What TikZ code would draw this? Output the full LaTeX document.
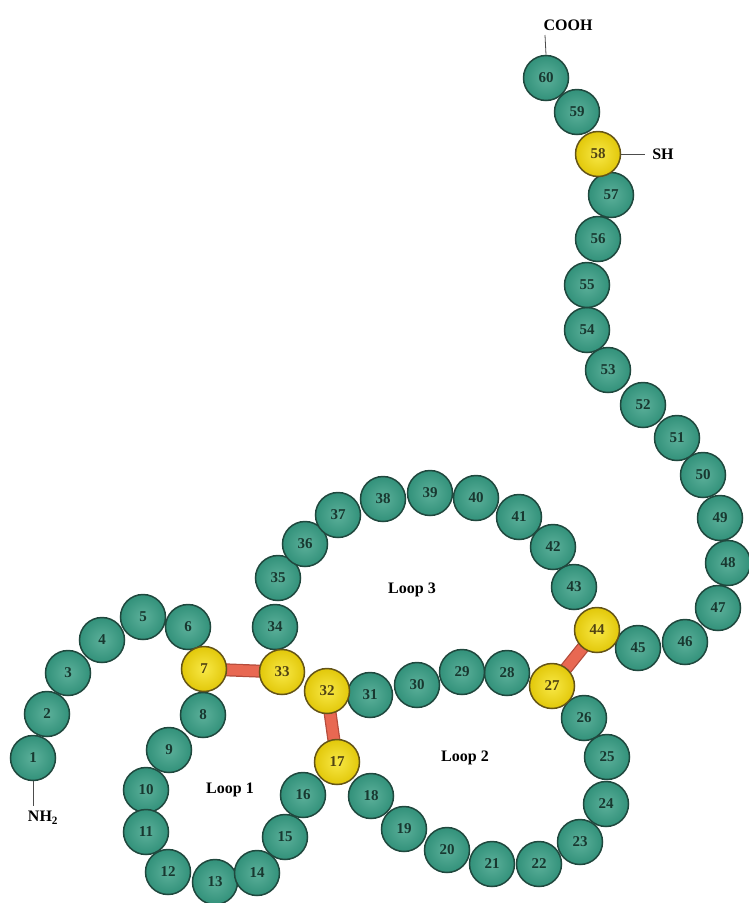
\documentclass[tikz,border=0pt]{standalone}
\usepackage{fontspec}
\setmainfont{Liberation Serif}
\usetikzlibrary{backgrounds}
\definecolor{tealC}{RGB}{50,145,122}
\definecolor{tealL}{RGB}{92,176,154}
\definecolor{tealD}{RGB}{32,72,62}
\definecolor{yelC}{RGB}{226,200,10}
\definecolor{yelL}{RGB}{248,232,70}
\definecolor{yelD}{RGB}{100,84,24}
\definecolor{bondC}{RGB}{232,104,82}
\definecolor{bondD}{RGB}{180,76,60}
\definecolor{numC}{RGB}{24,56,48}
\tikzset{
  bead/.style={circle, minimum size=45pt, inner sep=0pt, draw=tealD, line width=1.5pt,
    inner color=tealL, outer color=tealC, text=numC,
    font=\fontsize{15}{15}\selectfont\bfseries},
  cys/.style={bead, draw=yelD, inner color=yelL, outer color=yelC, text=yelD!80!black},
  bondout/.style={line width=13pt, bondD},
  bondin/.style={line width=10.5pt, bondC},
  lbl/.style={font=\fontsize{16}{16}\selectfont\bfseries, text=black, inner sep=0pt},
  tick/.style={line width=0.8pt, black!70}
}
\begin{document}
\begin{tikzpicture}[x=1pt,y=-1pt]
\useasboundingbox (0,0) rectangle (749,903);
\foreach \n/\x/\y in {1/33/758,2/47/714,3/68/673,4/102/640,5/143/617,6/188/627,
  8/203/715,9/169/750,10/146/790,11/146/832,12/168/872,13/215/882,14/257/873,
  15/285/837,16/303/795,18/371/796,19/404/829,20/447/850,21/492/864,22/539/864,
  23/580/842,24/606/804,25/607/757,26/584/718,28/507/673,29/462/672,30/417/685,
  31/370/695,34/275/627,35/278/578,36/305/544,37/338/515,38/383/499,39/430/493,
  40/476/498,41/519/517,42/553/547,43/574/587,45/638/648,46/685/642,47/718/608,
  48/728/563,49/720/518,50/703/475,51/677/438,52/643/405,53/608/370,54/587/330,
  55/587/285,56/598/239,57/611/195,59/577/112,60/546/78}
  \node[bead] (b\n) at (\x,\y) {\n};
\foreach \n/\x/\y in {7/204/669,17/337/762,27/552/686,32/327/691,33/282/672,
  44/597/630,58/598/154}
  \node[cys] (b\n) at (\x,\y) {\n};
\begin{scope}[on background layer]
  \draw[bondout] (b7.center) -- (b33.center);
  \draw[bondin] (b7.center) -- (b33.center);
  \draw[bondout] (b32.center) -- (b17.center);
  \draw[bondin] (b32.center) -- (b17.center);
  \draw[bondout] (b27.center) -- (b44.center);
  \draw[bondin] (b27.center) -- (b44.center);
\end{scope}
\node[lbl] (nh) at (43,818) {NH\textsubscript{2}};
\coordinate (nhtop) at (33,806);
\draw[tick] (b1.south) -- (nhtop);
\node[lbl] (cooh) at (568,25) {COOH};
\coordinate (coohbot) at (545,35);
\draw[tick] (b60.north) -- (coohbot);
\node[lbl] (sh) at (663,154) {SH};
\coordinate (shleft) at (645,154);
\draw[tick] (b58.east) -- (shleft);
\node[lbl] (l1) at (230,790) {Loop 1};
\node[lbl] (l2) at (465,758) {Loop 2};
\node[lbl] (l3) at (412,590) {Loop 3};
\end{tikzpicture}
\end{document}
